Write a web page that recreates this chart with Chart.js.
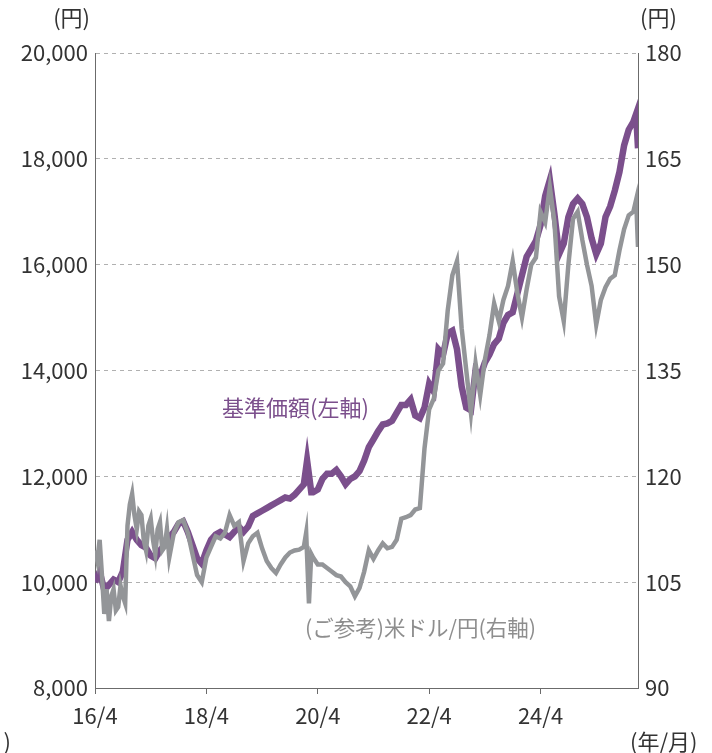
<!DOCTYPE html>
<html lang="ja">
<head>
<meta charset="utf-8">
<title>基準価額と米ドル/円の推移</title>
<script src="https://cdn.jsdelivr.net/npm/chart.js@4/dist/chart.umd.min.js"></script>
<style>
  html, body { margin: 0; padding: 0; background: #fff; }
  #chart { display: block; }
</style>
</head>
<body>
<canvas id="chart" width="712" height="753"></canvas>
<script>
// 基準価額(左軸) と 米ドル/円(右軸) の推移。x は 2016/4 からの経過月数。

const C = {
  purple: "#7b4f8c",
  gray:   "#939598",
  text:   "#333333",
  axis:   "#6b6b6b",
  grid:   "#b0b0b0",
  purpleText: "#7b4f8c",
  grayText:   "#8e8e8e",
};
const FONT = "'Noto Sans CJK JP', 'Noto Sans', sans-serif";

// x 軸目盛り
const tickMonths = [0, 24, 48, 72, 96];
const tickLabels = ["16/4", "18/4", "20/4", "22/4", "24/4"];

// 米ドル/円(右軸)
const usdMonths = [
  0, 0.5, 1, 1.5, 2, 2.5, 3, 3.5, 4, 4.5, 5, 5.5, 6, 6.5, 7, 7.5, 8, 8.5, 9, 9.5, 10, 10.5, 11, 11.5,
  12, 12.5, 13, 13.5, 14, 14.5, 15, 15.5, 16, 17, 18, 19, 20, 21, 22, 23,
  24, 25, 26, 27, 28, 29, 30, 31, 32, 33, 34, 35,
  36, 37, 38, 39, 40, 41, 42, 43, 44, 45, 45.5, 46.1, 46.6,
  47, 48, 49, 50, 51, 52, 53, 54, 55, 56, 57, 58, 59,
  60, 61, 62, 63, 64, 65, 66, 67, 68, 69, 70, 71,
  72, 73, 74, 75, 76, 77, 78, 79, 80, 81, 82, 83,
  84, 85, 86, 87, 88, 89, 90, 91, 92, 93, 94, 95,
  96, 97, 98, 99, 100, 101, 102, 103, 104, 105, 106, 107,
  108, 109, 110, 111, 112, 113, 114, 115, 116, 116.6, 117,
];
const usdValues = [
  109.5, 108, 111, 106, 100.5, 104, 99.5, 103, 104, 101, 101.5, 104.5, 103, 102, 113, 116, 117.5, 114.5, 112.5, 115, 114.5, 111, 109.5, 113,
  114, 111, 109, 112.5, 113.5, 109.5, 110, 112.5, 108.5, 112, 113.5, 113.8, 112, 109, 106, 105,
  108.5, 110, 111.5, 111.2, 112, 114.5, 113, 113.5, 108, 110.5, 111.5, 112,
  109.8, 108, 107, 106.3, 107.5, 108.5, 109.2, 109.5, 109.6, 110, 112, 102, 109,
  108.5, 107.5, 107.5, 107, 106.5, 106, 105.8, 105, 104.4, 103, 104.2, 106.5, 109.5,
  108.3, 109.5, 110.5, 109.8, 110, 111, 114, 114.2, 114.5, 115.3, 115.5, 124,
  129.5, 131, 135, 136, 143.5, 148.5, 150.5, 141, 135, 129, 136, 131.5,
  136.5, 140, 144.5, 142, 145, 147, 150.5, 146, 142.5, 146.5, 150, 151,
  157.5, 156, 161, 156, 145.5, 142, 150, 156.5, 157.5, 153.5, 150, 147,
  141.5, 145, 146.8, 148, 148.5, 152, 155, 157, 157.5, 159.2, 152.5,
];

// 基準価額(左軸)
const navMonths = [
  0, 1, 2, 3, 4, 5, 6, 7, 8, 9, 10, 11,
  12, 13, 14, 15, 16, 17, 18, 19, 20, 21, 22, 23,
  24, 25, 26, 27, 28, 29, 30, 31, 32, 33, 34, 35,
  36, 37, 38, 39, 40, 41, 42, 43, 44, 45, 45.7, 46.6,
  47, 48, 49, 50, 51, 52, 53, 54, 55, 56, 57, 58, 59,
  60, 61, 62, 63, 64, 65, 66, 67, 68, 69, 70, 71,
  72, 73, 74, 75, 76, 77, 78, 79, 80, 81, 82, 83,
  84, 85, 86, 87, 88, 89, 90, 91, 92, 93, 94, 95,
  96, 97, 98, 99, 100, 101, 102, 103, 104, 105, 106, 107,
  108, 109, 110, 111, 112, 113, 114, 115, 116, 116.6, 117,
];
const navValues = [
  10000, 10200, 9850, 9950, 10050, 10000, 10200, 10800, 10950, 10800, 10700, 10650,
  10500, 10450, 10600, 10700, 10850, 10950, 11100, 11150, 10950, 10700, 10450, 10350,
  10600, 10800, 10900, 10950, 10900, 10850, 10950, 11050, 10950, 11050, 11250, 11300,
  11350, 11400, 11450, 11500, 11550, 11600, 11580, 11650, 11750, 11850, 12300, 11700,
  11700, 11750, 11950, 12050, 12050, 12120, 12000, 11850, 11950, 12000, 12100, 12300, 12550,
  12700, 12850, 12980, 13000, 13050, 13200, 13350, 13350, 13450, 13150, 13100, 13300,
  13750, 13600, 14400, 14300, 14700, 14750, 14400, 13700, 13300, 13250, 14000, 13900,
  14150, 14300, 14500, 14600, 14900, 15050, 15100, 15450, 15800, 16150, 16300, 16450,
  16750, 17300, 17600, 16950, 16200, 16400, 16900, 17150, 17250, 17150, 16900, 16500,
  16200, 16400, 16900, 17100, 17400, 17750, 18250, 18550, 18700, 18850, 18200,
];

const toPoints = (xs, ys) => xs.map((x, i) => ({ x, y: ys[i] }));

// 注記・単位ラベル
const notes = {
  id: "notes",
  afterDraw(chart) {
    const { ctx } = chart;
    ctx.save();
    ctx.textBaseline = "middle";

    ctx.font = `22px ${FONT}`;
    ctx.fillStyle = C.purpleText;
    ctx.textAlign = "left";
    ctx.fillText("基準価額(左軸)", 222, 408);

    ctx.font = `21.5px ${FONT}`;
    ctx.fillStyle = C.grayText;
    ctx.fillText("(ご参考)米ドル/円(右軸)", 305, 628);

    ctx.font = `22px ${FONT}`;
    ctx.fillStyle = C.text;
    ctx.textAlign = "right";
    ctx.fillText("(円)", 90, 18);
    ctx.fillText("(年/月)", 11, 742);
    ctx.textAlign = "left";
    ctx.fillText("(円)", 640, 18);
    ctx.fillText("(年/月)", 630, 742);
    ctx.restore();
  },
};

const tickFont = { family: FONT, size: 22 };

new Chart(document.getElementById("chart"), {
  type: "line",
  data: {
    datasets: [
      {
        label: "(ご参考)米ドル/円(右軸)",
        data: toPoints(usdMonths, usdValues),
        yAxisID: "yR",
        borderColor: C.gray,
        borderWidth: 4.5,
        pointRadius: 0,
        tension: 0,
        order: 0,
      },
      {
        label: "基準価額(左軸)",
        data: toPoints(navMonths, navValues),
        yAxisID: "yL",
        borderColor: C.purple,
        borderWidth: 6.5,
        pointRadius: 0,
        tension: 0,
        order: 1,
      },
    ],
  },
  options: {
    responsive: false,
    animation: false,
    layout: { padding: { top: 53, left: 0, right: 0, bottom: 0 } },
    plugins: { legend: { display: false }, tooltip: { enabled: false } },
    scales: {
      x: {
        type: "linear",
        min: 0,
        max: 117,
        afterBuildTicks: (s) => { s.ticks = tickMonths.map((v) => ({ value: v })); },
        afterFit: (s) => { s.height = 65; },
        ticks: {
          font: tickFont,
          color: C.text,
          padding: 8,
          maxRotation: 0,
          autoSkip: false,
          callback: (v) => tickLabels[tickMonths.indexOf(v)] ?? "",
        },
        grid: { drawOnChartArea: false, drawTicks: true, tickLength: 6, color: C.axis },
        border: { color: C.axis, width: 1 },
      },
      yL: {
        position: "left",
        min: 8000,
        max: 20000,
        afterFit: (s) => { s.width = 95; },
        ticks: {
          stepSize: 2000,
          font: tickFont,
          color: C.text,
          padding: 7,
          callback: (v) => v.toLocaleString("en-US"),
        },
        grid: { color: C.grid, drawTicks: false, lineWidth: 1 },
        border: { color: C.axis, width: 1, dash: [4, 4] },
      },
      yR: {
        position: "right",
        min: 90,
        max: 180,
        afterFit: (s) => { s.width = 74; },
        ticks: { stepSize: 15, font: tickFont, color: C.text, padding: 7 },
        grid: { display: false, drawTicks: false },
        border: { color: C.axis, width: 1 },
      },
    },
  },
  plugins: [notes],
});
</script>
</body>
</html>
